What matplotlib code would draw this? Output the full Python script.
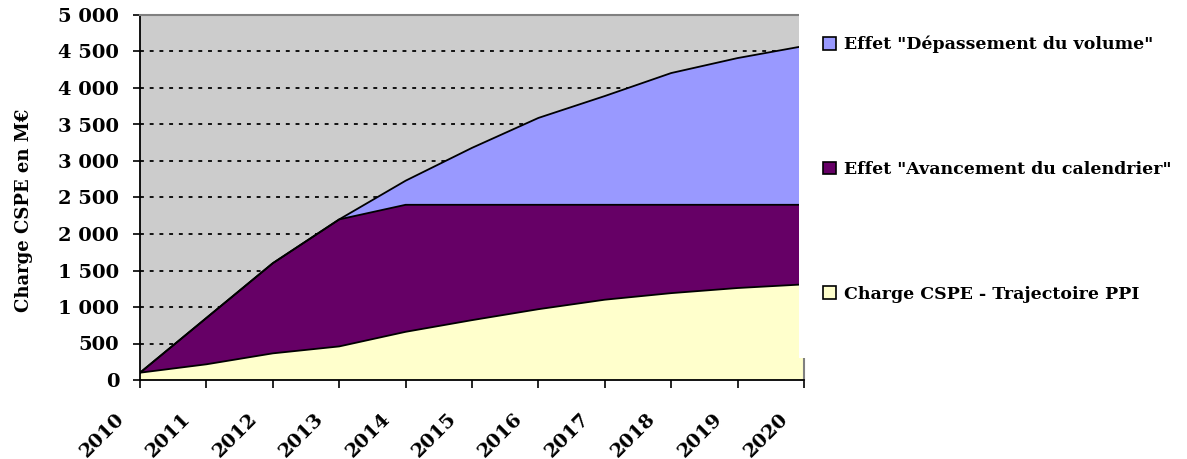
import numpy as np
import matplotlib
matplotlib.use("Agg")
import matplotlib.pyplot as plt
from matplotlib.patches import Rectangle, Patch
from matplotlib.transforms import ScaledTranslation

years = [2010, 2011, 2012, 2013, 2014, 2015, 2016, 2017, 2018, 2019, 2020]
ppi = [100, 215, 365, 460, 660, 820, 970, 1100, 1190, 1260, 1310]
avancement = [0, 635, 1235, 1740, 1740, 1580, 1430, 1300, 1210, 1140, 1090]
depassement = [0, 0, 0, 0, 330, 780, 1190, 1490, 1805, 2010, 2175]
labels = ['Charge CSPE - Trajectoire PPI',
          'Effet "Avancement du calendrier"',
          'Effet "Dépassement du volume"']
colors = ['#FFFFCC', '#660066', '#9999FF']
yticks = [0, 500, 1000, 1500, 2000, 2500, 3000, 3500, 4000, 4500, 5000]
ytick_labels = [f"{v:,}".replace(",", " ") for v in yticks]
ylabel = "Charge CSPE en M€"

FONT = 'DejaVu Serif'
W, H = 1187, 459
fig = plt.figure(figsize=(W / 100, H / 100), dpi=100)
L, R, T, B = 140, 804, 15, 380
ax = fig.add_axes([L / W, 1 - B / H, (R - L) / W, (B - T) / H])
ax.set_facecolor('#CCCCCC')

ax.stackplot(years, ppi, avancement, depassement, colors=colors,
             linewidth=0, zorder=2)
tops = np.cumsum(np.array([ppi, avancement, depassement]), axis=0)
for t in tops:
    ax.plot(years, t, color='black', lw=1.3, zorder=3, solid_joinstyle='miter')

ax.set_xlim(years[0], years[-1])
ax.set_ylim(0, 5000)
ax.set_yticks(yticks)
ax.set_yticklabels(ytick_labels, fontfamily=FONT, fontweight='bold', fontsize=14,
                   va='center_baseline')
ax.set_xticks(years)
ax.set_xticklabels([])
off = ScaledTranslation(-12 / 100, -30 / 100, fig.dpi_scale_trans)
for y in years:
    ax.text(y, 0, str(y), transform=ax.get_xaxis_transform() + off,
            rotation=45, ha='right', va='top', fontfamily=FONT,
            fontweight='bold', fontsize=14)

ax.tick_params(axis='x', direction='out', length=6, width=1.2, color='black', pad=3)
ax.tick_params(axis='y', direction='out', length=5, width=1.2, color='black', pad=10)
ax.yaxis.grid(True, color='#111111', linestyle=(0, (2, 3)), linewidth=1.4, zorder=1)
ax.set_axisbelow(True)

for s in ['left', 'bottom']:
    ax.spines[s].set_color('black')
    ax.spines[s].set_linewidth(1.3)
for s in ['top', 'right']:
    ax.spines[s].set_color('#808080')
    ax.spines[s].set_linewidth(1.5)
ax.spines['bottom'].set_zorder(4)

ax.set_ylabel(ylabel, fontfamily=FONT, fontweight='bold', fontsize=13)
ax.yaxis.set_label_coords((33 - L) / (R - L), 0.466)

# white legend area that overlaps the right edge of the plot area
fig.add_artist(Rectangle((799 / W, 1 - 358 / H), (W - 799) / W, 358 / H,
                         transform=fig.transFigure, facecolor='white',
                         edgecolor='none', zorder=5))

handles = [Patch(facecolor=c, edgecolor='black', linewidth=1.2) for c in colors]
leg = fig.legend(handles[::-1], labels[::-1], loc='upper left',
                 bbox_to_anchor=(816 / W, 1 - 29 / H), frameon=False,
                 prop={'family': FONT, 'weight': 'bold', 'size': 12.5},
                 handlelength=0.75, handleheight=0.75, handletextpad=0.45,
                 labelspacing=6.2, borderaxespad=0)
leg.set_zorder(6)

fig.savefig('out.png', dpi=100)
